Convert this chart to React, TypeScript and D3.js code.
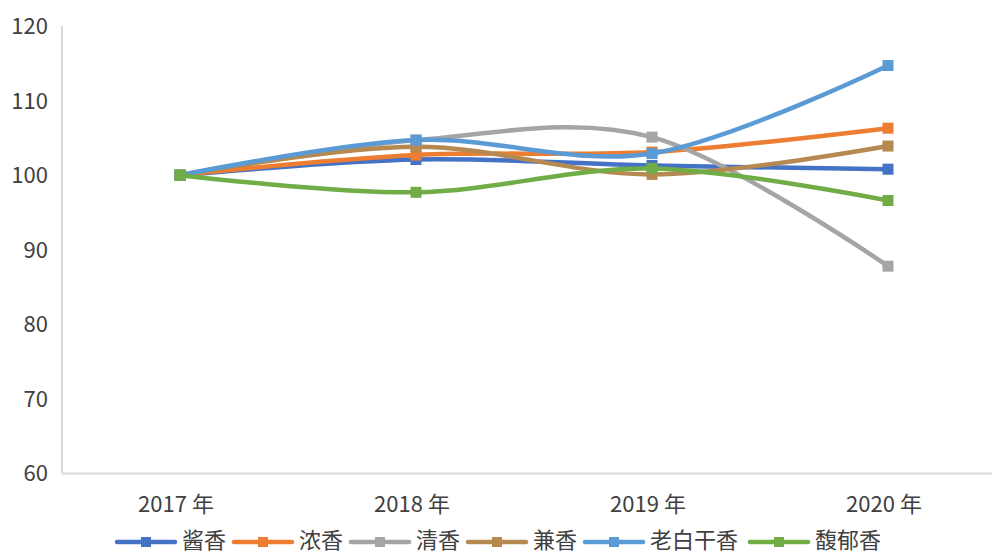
import React from "react";
import * as d3 from "d3";

const categories = ["2017 年", "2018 年", "2019 年", "2020 年"];
const seriesNames = ["酱香", "浓香", "清香", "兼香", "老白干香", "馥郁香"];
const seriesColors = ["#4472C4", "#ED7D31", "#A5A5A5", "#B5894F", "#5B9BD5", "#70AD47"];
const jiangxiang = [100, 102.1, 101.3, 100.8];
const nongxiang = [100, 102.7, 103.1, 106.3];
const qingxiang = [100, 104.7, 105.1, 87.8];
const jianxiang = [100, 103.8, 100.1, 103.9];
const laobaigan = [100, 104.7, 102.9, 114.7];
const fuyu = [100, 97.7, 100.9, 96.6];
const seriesValues = [jiangxiang, nongxiang, qingxiang, jianxiang, laobaigan, fuyu];
const yTicks = [60, 70, 80, 90, 100, 110, 120];

const W = 992;
const H = 553;
const FONT = "'Noto Sans CJK SC', 'Noto Sans', sans-serif";

export default function App() {
  const x = d3.scaleBand<string>().domain(categories).range([62, 1006]);
  const y = d3.scaleLinear().domain([60, 120]).range([473.5, 26]);
  const cx = (c: string) => (x(c) ?? 0) + x.bandwidth() / 2;
  const line = d3
    .line<number>()
    .x((_, i) => cx(categories[i]))
    .y((v) => y(v))
    .curve(d3.curveCatmullRom.alpha(0));

  const legendX = [117, 234, 351, 468, 585, 750];
  const legendY = 541;

  return (
    <svg
      width={W}
      height={H}
      style={{ position: "absolute", left: 0, top: 0, background: "#fff" }}
      fontFamily={FONT}
    >
      <rect width={W} height={H} fill="#fff" />
      <line x1={62} x2={W} y1={y(60)} y2={y(60)} stroke="#D9D9D9" strokeWidth={2} />
      <line x1={62} x2={62} y1={y(120)} y2={y(60)} stroke="#D9D9D9" strokeWidth={2} />
      {yTicks.map((t) => (
        <text key={t} x={48} y={y(t)} dy="0.36em" textAnchor="end" fontSize={22} fill="#404040">
          {t}
        </text>
      ))}
      {categories.map((c) => (
        <text key={c} x={cx(c) - 4} y={512} textAnchor="middle" fontSize={22} fill="#404040">
          {c}
        </text>
      ))}
      {seriesValues.map((vals, si) => (
        <g key={seriesNames[si]}>
          <path
            d={line(vals) ?? ""}
            fill="none"
            stroke={seriesColors[si]}
            strokeWidth={4.5}
            strokeLinecap="round"
          />
          {vals.map((v, i) => (
            <rect
              key={i}
              x={cx(categories[i]) - 5.5}
              y={y(v) - 5.5}
              width={11}
              height={11}
              fill={seriesColors[si]}
            />
          ))}
        </g>
      ))}
      {seriesNames.map((n, si) => (
        <g key={n}>
          <line
            x1={legendX[si]}
            x2={legendX[si] + 58}
            y1={legendY + 1}
            y2={legendY + 1}
            stroke={seriesColors[si]}
            strokeWidth={4.5}
            strokeLinecap="round"
          />
          <rect x={legendX[si] + 29 - 5} y={legendY + 1 - 5} width={10} height={10} fill={seriesColors[si]} />
          <text x={legendX[si] + 65} y={legendY} dy="0.34em" fontSize={22} fill="#404040">
            {n}
          </text>
        </g>
      ))}
    </svg>
  );
}
